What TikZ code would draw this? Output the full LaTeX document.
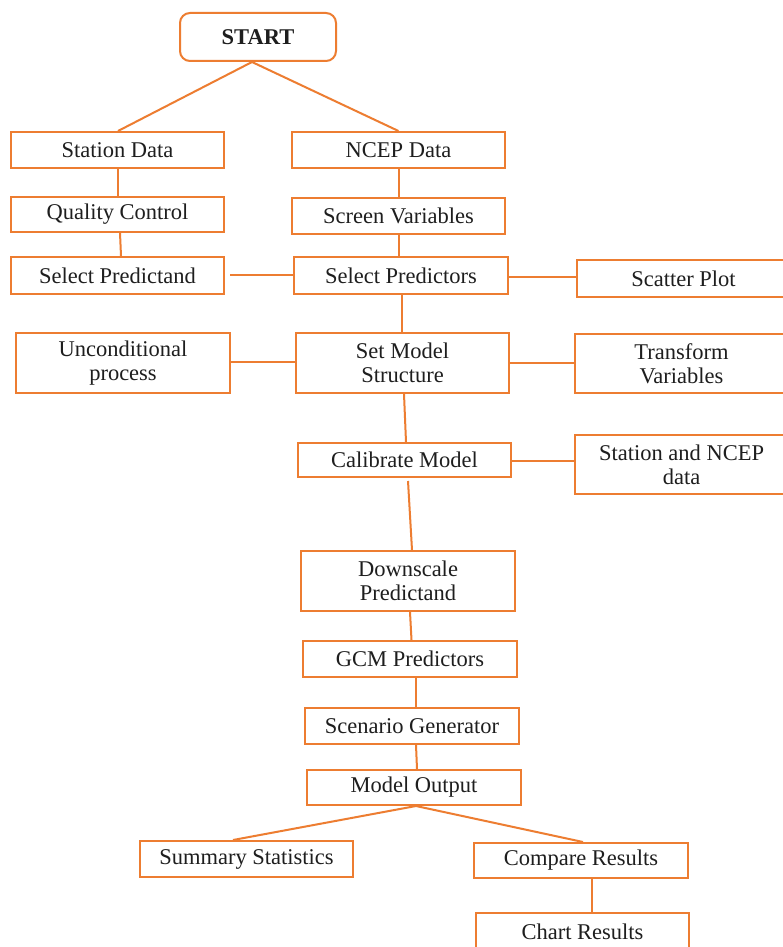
\documentclass[tikz,border=0pt]{standalone}
\usepackage{fontspec}
\setmainfont{Liberation Serif}
\definecolor{orng}{RGB}{237,125,49}
\definecolor{txt}{RGB}{30,30,30}
\begin{document}
\begin{tikzpicture}[x=1pt,y=-1pt,
  box/.style={draw=orng, line width=2pt, fill=white, inner sep=0pt, align=center,
    text=txt, font=\fontsize{22.5}{24}\selectfont},
  link/.style={draw=orng, line width=2pt},
]
\useasboundingbox (0,0) rectangle (783,947);
\clip (0,0) rectangle (783,947);
\fill[white] (0,0) rectangle (783,947);

\node[box, rounded corners=10pt, minimum width=156pt, minimum height=48pt, font=\fontsize{22.5}{24}\selectfont\bfseries] (start) at (258,37) {START};

\node[box, minimum width=213pt, minimum height=36pt] (station) at (117.5,150) {Station Data};
\node[box, minimum width=213pt, minimum height=36pt] (ncep) at (398.5,150) {NCEP Data};
\node[box, minimum width=213pt, minimum height=35pt] (qc) at (117.5,214.5) {Quality Control};
\node[box, minimum width=213pt, minimum height=36pt] (screen) at (398.5,216) {Screen Variables};
\node[box, minimum width=213pt, minimum height=37pt] (predictand) at (117.5,275.5) {Select Predictand};
\node[box, minimum width=214pt, minimum height=37pt] (predictors) at (401,275.5) {Select Predictors};
\node[box, minimum width=213pt, minimum height=37pt] (scatter) at (683.5,278.5) {Scatter Plot};
\node[box, minimum width=214pt, minimum height=60pt] (uncond) at (123,363) {Unconditional\\process};
\node[box, minimum width=213pt, minimum height=60pt] (setmodel) at (402.5,363) {Set Model\\Structure};
\node[box, minimum width=213pt, minimum height=59pt] (transform) at (681.5,363.5) {Transform\\Variables};
\node[box, minimum width=213pt, minimum height=34pt] (calibrate) at (404.5,460) {Calibrate Model};
\node[box, minimum width=213pt, minimum height=59pt] (stncep) at (681.5,464.5) {Station and NCEP\\data};
\node[box, minimum width=214pt, minimum height=60pt] (downscale) at (408,581) {Downscale\\Predictand};
\node[box, minimum width=214pt, minimum height=36pt] (gcm) at (410,659) {GCM Predictors};
\node[box, minimum width=214pt, minimum height=36pt] (scenario) at (412,726) {Scenario Generator};
\node[box, minimum width=214pt, minimum height=35pt] (output) at (414,787.5) {Model Output};
\node[box, minimum width=213pt, minimum height=36pt] (summary) at (246.5,859) {Summary Statistics};
\node[box, minimum width=214pt, minimum height=35pt] (compare) at (581,860.5) {Compare Results};
\node[box, minimum width=213pt, minimum height=37pt] (chart) at (582.5,931.5) {Chart Results};

\coordinate (sj) at ([xshift=-6pt]start.south);
\draw[link] (sj) -- ([xshift=0.5pt]station.north);
\draw[link] (sj) -- (ncep.north);
\draw[link] ([xshift=0.5pt]station.south) -- ([xshift=0.5pt]qc.north);
\draw[link] ([xshift=2.5pt]qc.south) -- ([xshift=3.5pt]predictand.north);
\draw[link] ([xshift=0.5pt]ncep.south) -- ([xshift=0.5pt]screen.north);
\draw[link] ([xshift=0.5pt]screen.south) -- ([xshift=-2pt]predictors.north);
\draw[link] ([xshift=5pt,yshift=0.5pt]predictand.east) -- ([yshift=0.5pt]predictors.west);
\draw[link] ([yshift=-1pt]predictors.east) -- ([yshift=2pt]scatter.west);
\draw[link] ([xshift=1pt]predictors.south) -- ([xshift=-0.5pt]setmodel.north);
\draw[link] ([yshift=1pt]uncond.east) -- ([yshift=1pt]setmodel.west);
\draw[link] (setmodel.east) -- ([yshift=0.5pt]transform.west);
\draw[link] ([xshift=1.5pt]setmodel.south) -- ([xshift=1.5pt]calibrate.north);
\draw[link] ([xshift=3.5pt,yshift=-3pt]calibrate.south) -- ([xshift=4pt]downscale.north);
\draw[link] ([yshift=-1pt]calibrate.east) -- ([yshift=3.5pt]stncep.west);
\draw[link] ([xshift=2pt]downscale.south) -- ([xshift=1.5pt]gcm.north);
\draw[link] ([xshift=6pt]gcm.south) -- ([xshift=4pt]scenario.north);
\draw[link] ([xshift=4pt]scenario.south) -- ([xshift=3pt]output.north);
\coordinate (oj) at ([xshift=2pt]output.south);
\draw[link] (oj) -- ([xshift=-13.5pt]summary.north);
\draw[link] (oj) -- ([xshift=2pt]compare.north);
\draw[link] ([xshift=11pt]compare.south) -- ([xshift=9.5pt]chart.north);
\end{tikzpicture}
\end{document}
